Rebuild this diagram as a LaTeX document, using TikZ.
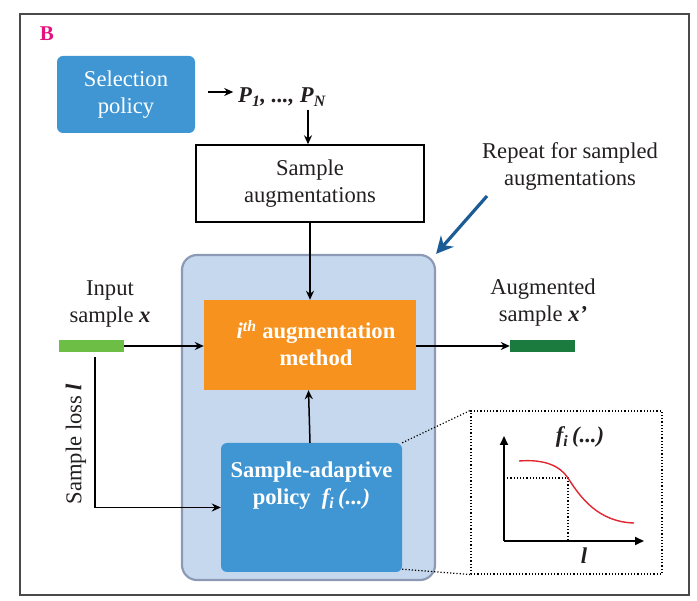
\documentclass[tikz,border=0pt]{standalone}
\usepackage{fontspec}
\setmainfont{Liberation Serif}
\usetikzlibrary{arrows.meta}
\definecolor{selblue}{HTML}{3F96D3}
\definecolor{bigfill}{HTML}{C5D8EE}
\definecolor{bigdraw}{HTML}{8D9AB5}
\definecolor{orangebox}{HTML}{F7921E}
\definecolor{ingreen}{HTML}{6DBE45}
\definecolor{outgreen}{HTML}{1B7A3E}
\definecolor{arrblue}{HTML}{1C5C96}
\definecolor{magB}{HTML}{E2137D}
\definecolor{txt}{HTML}{231F20}
\definecolor{curvered}{HTML}{E0262F}
\definecolor{framegray}{HTML}{4A4A4A}
\begin{document}
\begin{tikzpicture}[x=1pt,y=-1pt,
  font=\fontsize{22.6}{27}\selectfont,
  every node/.style={text=txt},
  arr/.style={draw=black,line width=1.5pt,-{Stealth[length=9pt,width=8pt]}},
  bluebox/.style={fill=selblue,draw=none,rounded corners=6pt,inner sep=0pt},
  wtxt/.style={text=white,align=center,font=\fontsize{22.6}{27}\selectfont\bfseries},
  plain/.style={align=center,inner sep=0pt},
  dotl/.style={draw=black,line width=1.2pt,dotted}
]
\useasboundingbox (0,0) rectangle (697,601);
% frame
\draw[framegray,line width=1.3pt] (20,14) rectangle (689,595);
\node[text=magB,font=\fontsize{21}{24}\selectfont\bfseries,inner sep=0pt] (blab) at (47,33.5) {B};

% selection policy
\node[bluebox,minimum width=138pt,minimum height=77pt,text=white,align=center] (sel) at (126,94.5) {Selection\\policy};
\node[anchor=base west,inner sep=3pt,font=\fontsize{22.6}{27}\selectfont\bfseries\itshape] (ptxt) at (235,103) {P\textsubscript{1}, ..., P\textsubscript{N}};
\draw[arr] ([xshift=13pt,yshift=2.5pt]sel.east) -- ([xshift=38pt,yshift=2.5pt]sel.east);

% sample augmentations
\node[draw=black,line width=1.4pt,minimum width=228pt,minimum height=77pt,align=center,inner sep=0pt] (saug) at (310,183.5) {Sample\\augmentations};
\draw[arr] ([xshift=-2pt]saug.north |- ptxt.south) -- ([xshift=-2pt]saug.north);

% repeat label and arrow
\node[plain] (rep) at (570,166) {Repeat for sampled\\augmentations};
\coordinate (repstart) at (487,196);

% big container
\node[fill=bigfill,draw=bigdraw,line width=2.2pt,rounded corners=15pt,minimum width=253pt,minimum height=325pt,inner sep=0pt] (big) at (308.5,417.5) {};
\draw[arrblue,line width=3.2pt,-{Stealth[length=17pt,width=17pt]}] (repstart) -- (big.north east);

% orange box
\node[fill=orangebox,draw=none,minimum width=212pt,minimum height=90pt,inner sep=0pt] (ori) at (310,345) {};
\node[wtxt,inner sep=0pt] (oritxt) at (316,343) {\textit{i}\textsuperscript{\textit{th}} augmentation\\method};
\draw[arr] (saug.south) -- (ori.north);

% policy box
\node[bluebox,minimum width=181pt,minimum height=129pt] (pol) at (311.5,507.5) {};
\node[wtxt,inner sep=0pt] (poltxt) at (311.5,486) {Sample-adaptive\\policy~~\textit{f\textsubscript{i}}\,\textit{(...)}};
\draw[arr] ([xshift=-1.5pt]pol.north) -- ([xshift=-1.5pt]ori.south);

% input
\node[fill=ingreen,draw=none,minimum width=65pt,minimum height=12pt,inner sep=0pt] (inbar) at (91.5,346) {};
\node[plain] (intxt) at (110,304) {Input\\sample \textbf{\textit{x}}};
\draw[arr] (inbar.east) -- (ori.west |- inbar.east);
\draw[arr] ([xshift=3.5pt,yshift=-5pt]inbar.south) |- (pol.west);
\node[plain,rotate=90] (losstxt) at (76,444) {Sample loss \textbf{\textit{l}}};

% output
\node[fill=outgreen,draw=none,minimum width=65pt,minimum height=12pt,inner sep=0pt] (outbar) at (542.5,346) {};
\node[plain] (outtxt) at (543,303) {Augmented\\sample \textbf{\textit{x’}}};
\draw[arr] (ori.east |- outbar.west) -- (outbar.west);

% inset
\node[dotl,minimum width=191pt,minimum height=163pt,inner sep=0pt] (inset) at (566.5,492.5) {};
\draw[dotl] (pol.north east) -- (inset.north west);
\draw[dotl] ([yshift=3pt]pol.south east) -- (inset.south west);
\coordinate (orig) at (504,541);
\coordinate (yend) at (504,436);
\coordinate (xend) at (644,541);
\draw[line width=1.8pt,-{Triangle[length=9pt,width=8pt]}] (orig) -- (yend);
\draw[line width=1.8pt,-{Triangle[length=9pt,width=8pt]}] (orig) -- (xend);
\coordinate (cp) at (568,478);
\draw[dotl] (orig |- cp) -- (cp) -- (cp |- orig);
\draw[curvered,line width=1.4pt] (519,461) .. controls (545,459) and (560,466) .. (cp) .. controls (580,497) and (598,522) .. (634,523);
\node[inner sep=0pt,font=\fontsize{22.6}{27}\selectfont\bfseries\itshape] (ftxt) at (580,437) {f\textsubscript{i}\,(...)};
\node[inner sep=0pt,font=\fontsize{22.6}{27}\selectfont\bfseries\itshape] (ltxt) at (584,556) {l};
\end{tikzpicture}
\end{document}
